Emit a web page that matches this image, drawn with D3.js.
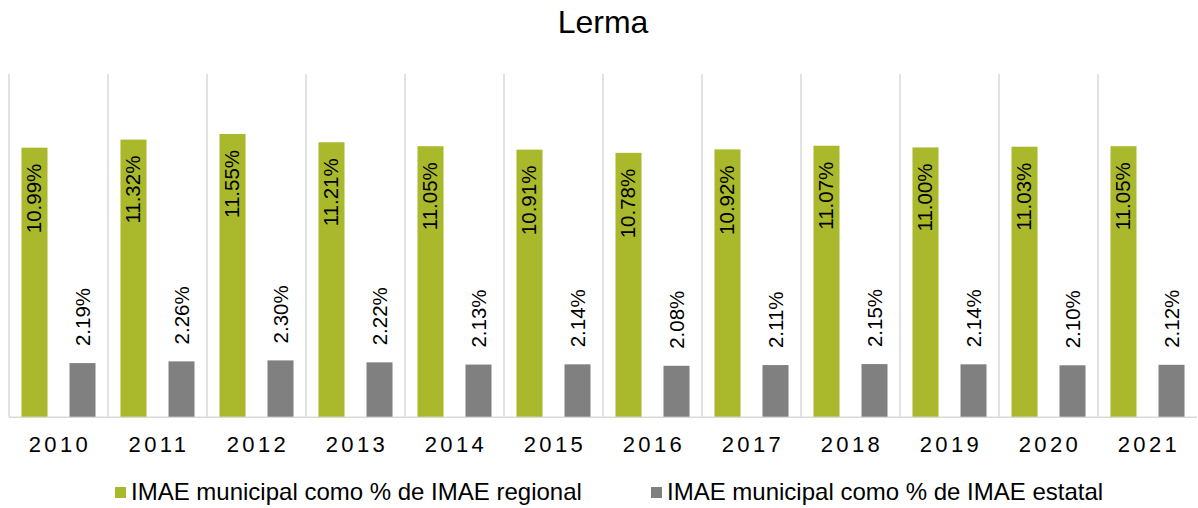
<!DOCTYPE html>
<html>
<head>
<meta charset="utf-8">
<script src="https://cdn.jsdelivr.net/npm/d3@7"></script>
<style>
  body { margin: 0; background: #fff; }
  text { font-family: "Liberation Sans", Arial, sans-serif; fill: #000; }
</style>
</head>
<body>
<div id="chart"></div>
<script>
const years = ['2010', '2011', '2012', '2013', '2014', '2015', '2016', '2017', '2018', '2019', '2020', '2021'];
const regional = [10.99, 11.32, 11.55, 11.21, 11.05, 10.91, 10.78, 10.92, 11.07, 11.00, 11.03, 11.05];
const estatal = [2.19, 2.26, 2.30, 2.22, 2.13, 2.14, 2.08, 2.11, 2.15, 2.14, 2.10, 2.12];
const seriesNames = ['IMAE municipal como % de IMAE regional', 'IMAE municipal como % de IMAE estatal'];
const colors = ['#a9b92b', '#808080'];

const width = 1198;
const height = 508;

const svg = d3.select('#chart')
  .append('svg')
  .attr('width', width)
  .attr('height', height);

// title
svg.append('text')
  .attr('x', 603)
  .attr('y', 33)
  .attr('text-anchor', 'middle')
  .style('font-size', '32px')
  .text('Lerma');

const x = d3.scaleBand()
  .domain(years)
  .range([9, 1197]);

const xInner = d3.scaleBand()
  .domain([0, 1])
  .range([0, x.bandwidth()])
  .paddingInner(0.458)
  .paddingOuter(0.26);

const y = d3.scaleLinear()
  .domain([0, 14])
  .range([416.7, 74]);

// category separators
svg.append('g')
  .selectAll('line')
  .data(years)
  .enter()
  .append('line')
  .attr('x1', d => x(d))
  .attr('x2', d => x(d))
  .attr('y1', y(14))
  .attr('y2', y(0))
  .attr('stroke', '#d9d9d9')
  .attr('stroke-width', 1.5);

svg.append('line')
  .attr('x1', 9)
  .attr('x2', 1197)
  .attr('y1', y(0) + 0.5)
  .attr('y2', y(0) + 0.5)
  .attr('stroke', '#d9d9d9')
  .attr('stroke-width', 1.5);

const data = years.map((yr, i) => ({ year: yr, values: [regional[i], estatal[i]] }));

const groups = svg.append('g')
  .selectAll('g')
  .data(data)
  .enter()
  .append('g')
  .attr('transform', d => `translate(${x(d.year)}, 0)`);

groups.selectAll('rect')
  .data(d => d.values.map((v, s) => ({ v, s })))
  .enter()
  .append('rect')
  .attr('x', d => xInner(d.s))
  .attr('width', xInner.bandwidth())
  .attr('y', d => y(d.v))
  .attr('height', d => y(0) - y(d.v))
  .attr('fill', d => colors[d.s]);

// labels: inside end for the green bars, outside end for the grey ones
groups.selectAll('text.lbl')
  .data(d => d.values.map((v, s) => ({ v, s })))
  .enter()
  .append('text')
  .attr('class', 'lbl')
  .attr('transform', d => {
    const cx = xInner(d.s) + xInner.bandwidth() / 2 + 7;
    const cy = d.s === 0 ? y(d.v) + 16 : y(d.v) - 17;
    return `translate(${cx}, ${cy}) rotate(-90)`;
  })
  .attr('text-anchor', d => d.s === 0 ? 'end' : 'start')
  .style('font-size', '20.5px')
  .text(d => d.v.toFixed(2) + '%');

// x axis labels
svg.append('g')
  .selectAll('text')
  .data(years)
  .enter()
  .append('text')
  .attr('x', d => x(d) + x.bandwidth() / 2 + 1.5)
  .attr('y', 451.5)
  .attr('text-anchor', 'middle')
  .style('font-size', '22px')
  .style('letter-spacing', '3.4px')
  .text(d => d);

// legend
const legendX = [115, 651];
const legend = svg.append('g');
seriesNames.forEach((name, i) => {
  const g = legend.append('g').attr('transform', `translate(${legendX[i]}, 0)`);
  g.append('rect')
    .attr('x', 0)
    .attr('y', 487)
    .attr('width', 11)
    .attr('height', 11)
    .attr('fill', colors[i]);
  g.append('text')
    .attr('x', 16)
    .attr('y', 500)
    .style('font-size', '24px')
    .text(name);
});
</script>
</body>
</html>
